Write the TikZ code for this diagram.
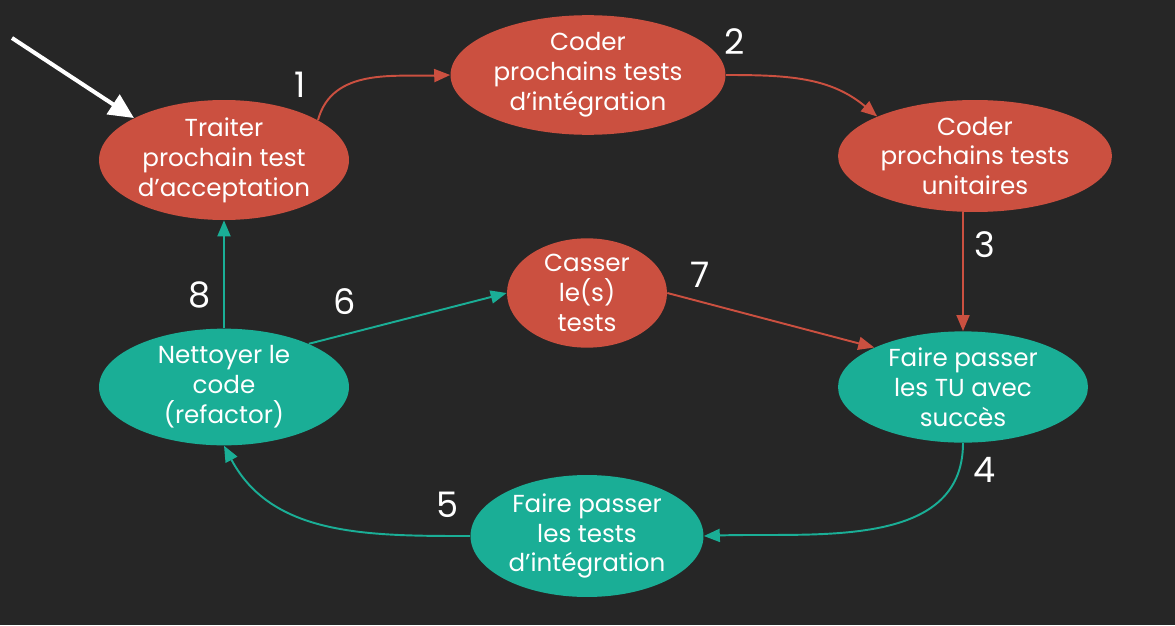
\documentclass[tikz,border=0pt]{standalone}
\usepackage{xcolor}
\usepackage{fontspec}
\setmainfont{Poppins}
\usepackage{tikz}
\usetikzlibrary{
  arrows.meta,
  shapes.geometric,
  positioning,
  calc
}
\definecolor{tddBack}{HTML}{262626}
\definecolor{tddRed}{HTML}{CB5040}
\definecolor{tddTeal}{HTML}{1AAE96}
\tikzset{
  tddnode/.style={
    ellipse, inner sep=0pt, text=white, align=center,
    font=\fontsize{14}{17}\selectfont
  },
  rednode/.style={tddnode, fill=tddRed},
  tealnode/.style={tddnode, fill=tddTeal},
  redflow/.style={-{Triangle[length=3.2mm, width=2.6mm]}, line width=1.1pt, tddRed},
  tealflow/.style={-{Triangle[length=3.2mm, width=2.6mm]}, line width=1.1pt, tddTeal},
  startflow/.style={-{Triangle[length=5mm, width=4.6mm]}, line width=2.3pt, white},
  stepnum/.style={font=\fontsize{20}{20}\selectfont, text=white}
}
\begin{document}
\begin{tikzpicture}[x=0.02cm, y=0.02cm]
  \fill[tddBack] (0,0) rectangle (1175,-625);
  % ellipses
  \node[rednode, minimum width=5cm, minimum height=2.1cm] (accept) at (224,-160) {Traiter\\prochain test\\d’acceptation};
  \node[rednode, minimum width=5.5cm, minimum height=2.2cm] (integ) at (588,-75) {Coder\\prochains tests\\d’intégration};
  \node[rednode, minimum width=5.48cm, minimum height=2.24cm] (unit) at (975,-156) {Coder\\prochains tests\\unitaires};
  \node[rednode, minimum width=3.2cm, minimum height=1.95cm] (break) at (587,-293) {Casser\\le(s)\\tests};
  \node[tealnode, minimum width=5cm, minimum height=2.14cm] (clean) at (224,-387) {Nettoyer le\\code\\(refactor)};
  \node[tealnode, minimum width=5cm, minimum height=2.18cm] (passtu) at (963,-387) {Faire passer\\les TU avec\\succès};
  \node[tealnode, minimum width=4.66cm, minimum height=2.44cm] (passit) at (587,-536) {Faire passer\\les tests\\d’intégration};
  % entry
  \coordinate (entry) at (12,-38);
  \draw[startflow] (entry) -- (accept.155);
  % connectors
  \draw[redflow] (accept.23) to[out=75, in=182] (integ.west);
  \draw[redflow] (integ.east) to[out=0, in=140] (unit.158);
  \draw[redflow] (passtu.north |- unit.south) -- (passtu.north);
  \draw[tealflow] (passtu.south) to[out=-90, in=2] (passit.east);
  \draw[tealflow] (passit.west) to[out=180, in=-62] (clean.south);
  \draw[tealflow] (clean.north) -- (accept.south);
  \draw[tealflow] (clean.27) -- (break.west);
  \draw[redflow] (break.east) -- (passtu.156);
  % step numbers
  \node[stepnum] (n1) at (300,-85) {1};
  \node[stepnum] (n2) at (735,-42) {2};
  \node[stepnum] (n3) at (985,-245) {3};
  \node[stepnum] (n4) at (985,-470) {4};
  \node[stepnum] (n5) at (448,-505) {5};
  \node[stepnum] (n6) at (345,-302) {6};
  \node[stepnum] (n7) at (700,-275) {7};
  \node[stepnum] (n8) at (200,-295) {8};
\end{tikzpicture}
\end{document}
